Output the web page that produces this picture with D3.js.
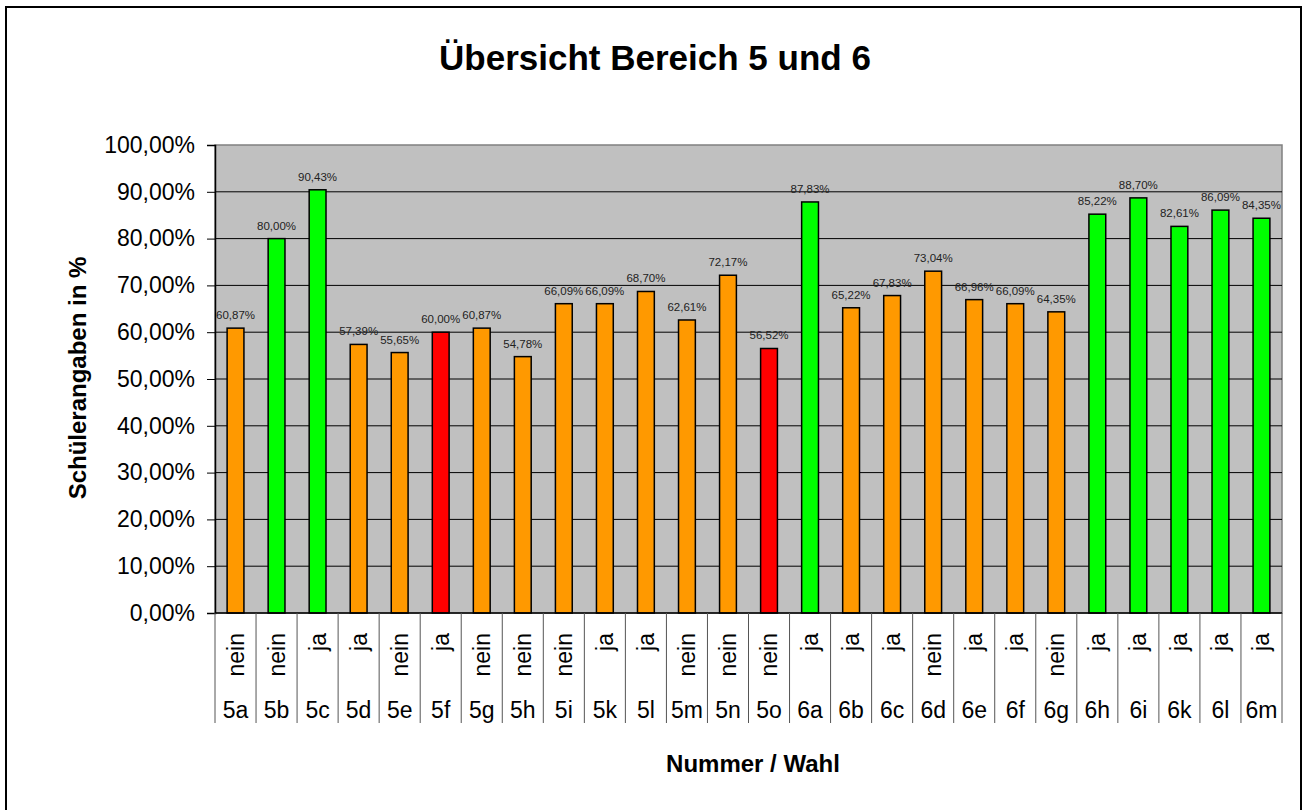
<!DOCTYPE html>
<html>
<head>
<meta charset="utf-8">
<script src="https://cdn.jsdelivr.net/npm/d3@7"></script>
<style>
  body { margin: 0; background: #fff; }
  text { font-family: Arial, "Liberation Sans", sans-serif; }
</style>
</head>
<body>
<script>
// chart data
const classes = ["5a","5b","5c","5d","5e","5f","5g","5h","5i","5k","5l","5m","5n","5o",
                 "6a","6b","6c","6d","6e","6f","6g","6h","6i","6k","6l","6m"];
const choice = ["nein","nein","ja","ja","nein","ja","nein","nein","nein","ja","ja","nein","nein","nein",
                "ja","ja","ja","nein","ja","ja","nein","ja","ja","ja","ja","ja"];
const percent = [60.87,80.00,90.43,57.39,55.65,60.00,60.87,54.78,66.09,66.09,68.70,62.61,72.17,56.52,
                 87.83,65.22,67.83,73.04,66.96,66.09,64.35,85.22,88.70,82.61,86.09,84.35];
const rating = ["mittel","gut","gut","mittel","mittel","schlecht","mittel","mittel","mittel","mittel","mittel","mittel","mittel","schlecht",
                "gut","mittel","mittel","mittel","mittel","mittel","mittel","gut","gut","gut","gut","gut"];
const yTicks = [0,10,20,30,40,50,60,70,80,90,100];

const W = 1303, H = 810;
const margin = {top: 145, right: 21, bottom: 197, left: 215};
const width = W - margin.left - margin.right;
const height = H - margin.top - margin.bottom;

const fmt = v => d3.format(".2f")(v).replace(".", ",") + "%";

const svg = d3.select("body").append("svg")
  .attr("width", W)
  .attr("height", H);

// outer frame
svg.append("rect")
  .attr("x", 6).attr("y", 7)
  .attr("width", W - 8).attr("height", H + 10)
  .attr("fill", "#fff").attr("stroke", "#000").attr("stroke-width", 2);

const x = d3.scaleBand().domain(classes).range([0, width]);
const y = d3.scaleLinear().domain([0, 100]).range([height, 0]);
const color = d3.scaleOrdinal().domain(["gut","mittel","schlecht"]).range(["#00ff00","#ff9900","#ff0000"]);

const g = svg.append("g").attr("transform", "translate(" + margin.left + "," + margin.top + ")");

// plot background
g.append("rect")
  .attr("width", width).attr("height", height)
  .attr("fill", "#c0c0c0").attr("stroke", "#808080").attr("stroke-width", 1.5);

// gridlines
g.append("g").selectAll("line")
  .data(yTicks.filter(t => t > 0 && t < 100))
  .enter().append("line")
    .attr("x1", 0).attr("x2", width)
    .attr("y1", d => y(d)).attr("y2", d => y(d))
    .attr("stroke", "#000").attr("stroke-width", 1);

// y axis
const yAxis = d3.axisLeft(y).tickValues(yTicks).tickSize(8).tickFormat(d => fmt(d));
const ya = g.append("g").call(yAxis);
ya.select(".domain").attr("stroke", "#000").attr("stroke-width", 1.5);
ya.selectAll(".tick line").attr("stroke", "#000");
ya.selectAll(".tick text")
  .attr("x", -20)
  .attr("fill", "#000")
  .style("font-size", "23px");

// bars
const bw = x.bandwidth() * 0.41;
g.append("g").selectAll("rect")
  .data(classes)
  .enter().append("rect")
    .attr("x", d => x(d) + (x.bandwidth() - bw) / 2)
    .attr("y", (d, i) => y(percent[i]))
    .attr("width", bw)
    .attr("height", (d, i) => height - y(percent[i]))
    .attr("fill", (d, i) => color(rating[i]))
    .attr("stroke", "#000").attr("stroke-width", 1.5);

// value labels
g.append("g").selectAll("text")
  .data(classes)
  .enter().append("text")
    .attr("x", d => x(d) + x.bandwidth() / 2)
    .attr("y", (d, i) => y(percent[i]) - 9)
    .attr("text-anchor", "middle")
    .style("font-size", "11.5px")
    .attr("fill", "#222")
    .text((d, i) => fmt(percent[i]));

// category axis (two levels)
const cat = g.append("g").attr("transform", "translate(0," + height + ")");
cat.append("line").attr("x1", 0).attr("x2", width).attr("stroke", "#000").attr("stroke-width", 1.5);
cat.selectAll(".sep")
  .data(classes.concat(["end"]))
  .enter().append("line")
    .attr("class", "sep")
    .attr("x1", (d, i) => i * x.step()).attr("x2", (d, i) => i * x.step())
    .attr("y1", 0).attr("y2", 110)
    .attr("stroke", "#555").attr("stroke-width", 1);

cat.selectAll(".wahl")
  .data(choice)
  .enter().append("text")
    .attr("class", "wahl")
    .attr("transform", (d, i) => "translate(" + (x(classes[i]) + x.bandwidth() / 2 + 8) + ",20) rotate(-90)")
    .attr("text-anchor", "end")
    .style("font-size", "23px")
    .attr("fill", "#000")
    .text(d => d);

cat.selectAll(".klasse")
  .data(classes)
  .enter().append("text")
    .attr("class", "klasse")
    .attr("x", d => x(d) + x.bandwidth() / 2)
    .attr("y", 105)
    .attr("text-anchor", "middle")
    .style("font-size", "23px")
    .attr("fill", "#000")
    .text(d => d);

// titles
svg.append("text")
  .attr("x", 655).attr("y", 70)
  .attr("text-anchor", "middle")
  .style("font-size", "35px").style("font-weight", "bold")
  .text("Übersicht Bereich 5 und 6");

svg.append("text")
  .attr("x", 753).attr("y", 772)
  .attr("text-anchor", "middle")
  .style("font-size", "24px").style("font-weight", "bold")
  .text("Nummer / Wahl");

svg.append("text")
  .attr("transform", "translate(86,378) rotate(-90)")
  .attr("text-anchor", "middle")
  .style("font-size", "24px").style("font-weight", "bold")
  .text("Schülerangaben in %");
</script>
</body>
</html>
